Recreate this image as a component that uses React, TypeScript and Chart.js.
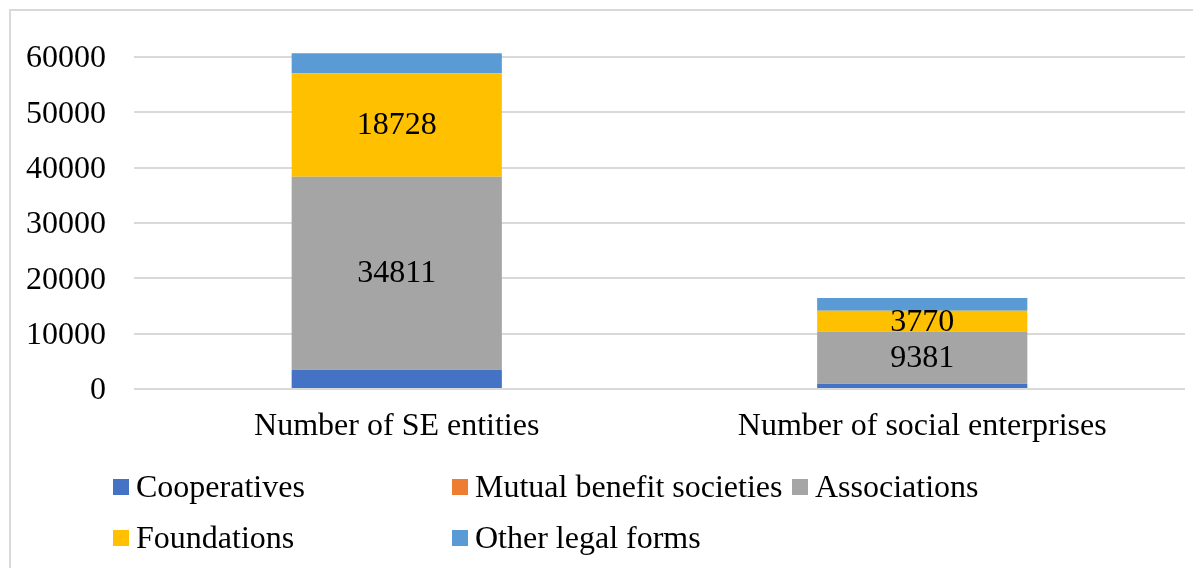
import React, { useEffect, useRef } from "react";
import { Chart, registerables } from "chart.js";

Chart.register(...registerables);

const categories = ["Number of SE entities", "Number of social enterprises"];
const seriesNames = ["Cooperatives", "Mutual benefit societies", "Associations", "Foundations", "Other legal forms"];
const cooperatives = [3450, 950];
const mutualBenefit = [100, 50];
const associations = [34811, 9381];
const foundations = [18728, 3770];
const otherForms = [3600, 2300];
const yTicks = [0, 10000, 20000, 30000, 40000, 50000, 60000];
const seriesColors = ["#4472C4", "#ED7D31", "#A5A5A5", "#FFC000", "#5B9BD5"];
const labelledSeries = [2, 3];

const FONT = "'Liberation Serif', 'Times New Roman', serif";

const valueLabels = {
  id: "valueLabels",
  afterDatasetsDraw(chart: any) {
    const ctx = chart.ctx;
    ctx.save();
    ctx.font = `32px ${FONT}`;
    ctx.fillStyle = "#000";
    ctx.textAlign = "center";
    ctx.textBaseline = "middle";
    labelledSeries.forEach((di) => {
      const meta = chart.getDatasetMeta(di);
      meta.data.forEach((bar: any, i: number) => {
        const v = chart.data.datasets[di].data[i];
        ctx.fillText(String(v), bar.x, (bar.y + bar.base) / 2 + 1);
      });
    });
    ctx.restore();
  },
};

export default function App() {
  const ref = useRef<HTMLCanvasElement>(null);
  useEffect(() => {
    document.documentElement.style.overflow = "hidden";
    const seriesData = [cooperatives, mutualBenefit, associations, foundations, otherForms];
    const chart = new Chart(ref.current!, {
      type: "bar",
      data: {
        labels: categories,
        datasets: seriesNames.map((n, i) => ({
          label: n,
          data: seriesData[i],
          backgroundColor: seriesColors[i],
          borderWidth: 0,
          barPercentage: 0.4,
          categoryPercentage: 1,
        })),
      },
      options: {
        responsive: false,
        animation: false,
        layout: { padding: { top: 35, right: 16, left: 0, bottom: 119 } },
        plugins: { legend: { display: false }, tooltip: { enabled: false } },
        scales: {
          x: {
            stacked: true,
            grid: { display: false },
            border: { display: false },
            ticks: { color: "#000", font: { family: FONT, size: 32 }, padding: 10 },
            afterFit(scale: any) {
              scale.height = 60;
            },
          },
          y: {
            stacked: true,
            min: 0,
            max: 62000,
            border: { display: false },
            grid: { color: "#d9d9d9", lineWidth: 2, drawTicks: false },
            afterBuildTicks(scale: any) {
              scale.ticks = yTicks.map((v) => ({ value: v }));
            },
            ticks: {
              color: "#000",
              padding: 28,
              labelOffset: 2,
              font: { family: FONT, size: 32 },
              callback: (v: any) => String(v),
            },
            afterFit(scale: any) {
              scale.width = 123;
              scale.paddingTop = 0;
              scale.paddingBottom = 0;
            },
          },
        },
      },
      plugins: [valueLabels],
    });
    return () => chart.destroy();
  }, []);

  return (
    <div
      style={{
        position: "relative",
        marginLeft: 1,
        marginTop: 1,
        width: 1190,
        height: 557,
        borderTop: "2px solid #d9d9d9",
        borderLeft: "2px solid #d9d9d9",
        fontFamily: FONT,
      }}
    >
      <canvas ref={ref} width={1190} height={557} style={{ display: "block" }} />
      <div
        style={{
          position: "absolute",
          left: 102,
          top: 450,
          display: "grid",
          gridTemplateColumns: "339px 340px auto",
          gridAutoRows: "51px",
          alignItems: "center",
          fontSize: 32,
          color: "#000",
          whiteSpace: "nowrap",
        }}
      >
        {seriesNames.map((n, i) => (
          <div key={n} style={{ display: "flex", alignItems: "center" }}>
            <span
              style={{
                display: "inline-block",
                width: 16,
                height: 16,
                background: seriesColors[i],
                marginRight: 7,
              }}
            />
            <span>{n}</span>
          </div>
        ))}
      </div>
    </div>
  );
}
